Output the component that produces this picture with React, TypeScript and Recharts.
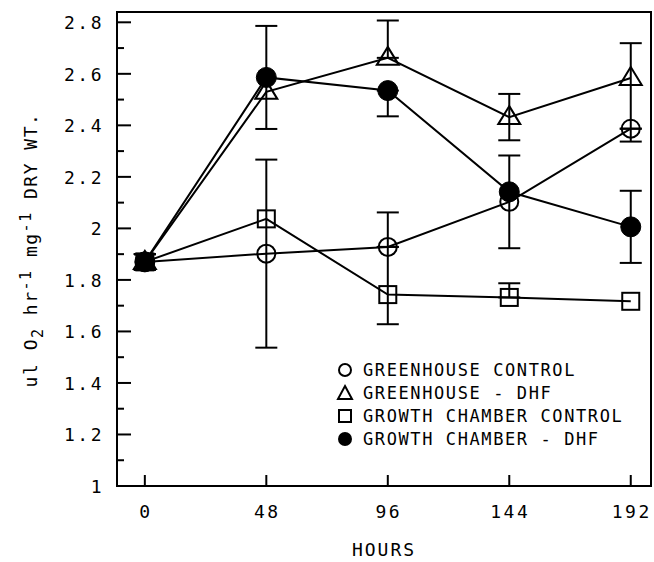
import React from "react";
import { ErrorBar, Line, LineChart, ReferenceArea, XAxis, YAxis } from "recharts";

const hours = [0, 48, 96, 144, 192];

// error bars as [below, above]; null where the reference shows no bar of its own
const greenhouseControl = [1.87, 1.902, 1.928, 2.103, 2.387];
const greenhouseControlErr = [[0.03, 0.03], [0.365, 0.365], [0, 0.134], [0.18, 0.18], [0.05, 0]];

const greenhouseDhf = [1.87, 2.53, 2.662, 2.432, 2.584];
const greenhouseDhfErr = [[0.03, 0.03], null, [0, 0.145], [0.09, 0.09], [0.197, 0.135]];

const chamberControl = [1.87, 2.037, 1.743, 1.732, 1.717];
const chamberControlErr = [[0.03, 0.03], null, [0.115, 0.185], [0, 0.055], null];

const chamberDhf = [1.87, 2.586, 2.535, 2.142, 2.006];
const chamberDhfErr = [[0.03, 0.03], [0.2, 0.2], [0.1, 0], null, [0.14, 0.14]];

const yTicks = [1, 1.1, 1.2, 1.3, 1.4, 1.5, 1.6, 1.7, 1.8, 1.9, 2, 2.1, 2.2, 2.3, 2.4, 2.5, 2.6, 2.7, 2.8];
const legendLabels = [
  "GREENHOUSE CONTROL",
  "GREENHOUSE - DHF",
  "GROWTH CHAMBER CONTROL",
  "GROWTH CHAMBER - DHF",
];

const data = hours.map((hour, i) => ({
  hour,
  gc: greenhouseControl[i],
  gcErr: greenhouseControlErr[i],
  gd: greenhouseDhf[i],
  gdErr: greenhouseDhfErr[i],
  cc: chamberControl[i],
  ccErr: chamberControlErr[i],
  cd: chamberDhf[i],
  cdErr: chamberDhfErr[i],
}));

const FONT = "'DejaVu Sans Mono', monospace";
const INK = "#000";

const openCircle = (p: any) =>
  p.cx == null ? <g key={p.key} /> : (
    <circle key={p.key} cx={p.cx} cy={p.cy} r={9} fill="none" stroke={INK} strokeWidth={2} />
  );

const filledCircle = (p: any) =>
  p.cx == null ? <g key={p.key} /> : (
    <circle key={p.key} cx={p.cx} cy={p.cy} r={10} fill={INK} stroke={INK} strokeWidth={1} />
  );

const openTriangle = (p: any) =>
  p.cx == null ? <g key={p.key} /> : (
    <path
      key={p.key}
      d={`M${p.cx},${p.cy - 11} L${p.cx + 11},${p.cy + 7} L${p.cx - 11},${p.cy + 7} Z`}
      fill="none"
      stroke={INK}
      strokeWidth={2}
    />
  );

const openSquare = (p: any) =>
  p.cx == null ? <g key={p.key} /> : (
    <rect key={p.key} x={p.cx - 8.5} y={p.cy - 8.5} width={17} height={17} fill="none" stroke={INK} strokeWidth={2} />
  );

const YTick = (props: any) => {
  const { x, y, payload } = props;
  const major = Math.round(payload.value * 10) % 2 === 0;
  return (
    <g>
      <line x1={x} x2={x + (major ? 14 : 7)} y1={y} y2={y} stroke={INK} strokeWidth={2} />
      {major && (
        <text x={x - 13} y={y + 7} textAnchor="end" fontFamily={FONT} fontSize={18} letterSpacing={2.5} fill={INK}>
          {String(payload.value)}
        </text>
      )}
    </g>
  );
};

const XTick = (props: any) => {
  const { x, y, payload } = props;
  return (
    <g>
      <line x1={x} x2={x} y1={y} y2={y - 11} stroke={INK} strokeWidth={2} />
      <text x={x + 1} y={y + 32} textAnchor="middle" fontFamily={FONT} fontSize={18} letterSpacing={2.5} fill={INK}>
        {String(payload.value)}
      </text>
    </g>
  );
};

const XTitle = (props: any) => {
  const vb = props.viewBox || { x: 117, y: 486, width: 534 };
  return (
    <text x={vb.x + vb.width / 2} y={vb.y + 70} textAnchor="middle" fontFamily={FONT} fontSize={18} letterSpacing={2} fill={INK}>
      HOURS
    </text>
  );
};

const YTitle = () => {
  const cx = 37;
  const cy = 250;
  return (
    <text
      x={cx}
      y={cy}
      transform={`rotate(-90 ${cx} ${cy})`}
      textAnchor="middle"
      fontFamily={FONT}
      fontSize={18}
      letterSpacing={1.5}
      fill={INK}
    >
      <tspan>ul O</tspan>
      <tspan dy={6} fontSize={15}>2</tspan>
      <tspan dy={-6}> hr</tspan>
      <tspan dy={-6} fontSize={15}>-1</tspan>
      <tspan dy={6}> mg</tspan>
      <tspan dy={-6} fontSize={15}>-1</tspan>
      <tspan dy={6}> DRY WT.</tspan>
    </text>
  );
};

const legendMarks = [
  <circle cx={9} cy={10} r={6} fill="none" stroke={INK} strokeWidth={2} />,
  <path d="M9,3 L16,16 L2,16 Z" fill="none" stroke={INK} strokeWidth={2} />,
  <rect x={3} y={4} width={12} height={12} fill="none" stroke={INK} strokeWidth={2} />,
  <circle cx={9} cy={10} r={7} fill={INK} />,
];

const ChartLegend = () => (
  <div style={{ position: "absolute", left: 336, top: 358, fontFamily: FONT, fontSize: 17, letterSpacing: 1.6 }}>
    {legendLabels.map((label, i) => (
      <div key={label} style={{ display: "flex", alignItems: "center", height: 23 }}>
        <svg width={20} height={20} style={{ marginRight: 7 }}>
          {legendMarks[i]}
        </svg>
        <span style={{ whiteSpace: "pre" }}>{label}</span>
      </div>
    ))}
  </div>
);

export default function App() {
  return (
    <div style={{ position: "absolute", left: 0, top: 0, width: 654, height: 562, background: "#fff" }}>
      <LineChart width={654} height={562} data={data} margin={{ top: 12, right: 3, bottom: 0, left: 0 }}>
        <ReferenceArea x1={-11} x2={200} y1={1} y2={2.84} fill="none" stroke={INK} strokeWidth={2} ifOverflow="visible" />
        <XAxis
          type="number"
          dataKey="hour"
          domain={[-11, 200]}
          ticks={hours}
          interval={0}
          tickSize={0}
          tickMargin={0}
          tickLine={false}
          axisLine={false}
          height={76}
          tick={<XTick />}
          label={<XTitle />}
        />
        <YAxis
          type="number"
          domain={[1, 2.84]}
          ticks={yTicks}
          interval={0}
          tickSize={0}
          tickMargin={0}
          tickLine={false}
          axisLine={false}
          width={117}
          tick={<YTick />}
          label={<YTitle />}
        />
        <Line dataKey="gc" stroke={INK} strokeWidth={2} dot={openCircle} isAnimationActive={false}>
          <ErrorBar dataKey="gcErr" direction="y" width={11} stroke={INK} strokeWidth={2} />
        </Line>
        <Line dataKey="gd" stroke={INK} strokeWidth={2} dot={openTriangle} isAnimationActive={false}>
          <ErrorBar dataKey="gdErr" direction="y" width={11} stroke={INK} strokeWidth={2} />
        </Line>
        <Line dataKey="cc" stroke={INK} strokeWidth={2} dot={openSquare} isAnimationActive={false}>
          <ErrorBar dataKey="ccErr" direction="y" width={11} stroke={INK} strokeWidth={2} />
        </Line>
        <Line dataKey="cd" stroke={INK} strokeWidth={2} dot={filledCircle} isAnimationActive={false}>
          <ErrorBar dataKey="cdErr" direction="y" width={11} stroke={INK} strokeWidth={2} />
        </Line>
      </LineChart>
      <ChartLegend />
    </div>
  );
}
